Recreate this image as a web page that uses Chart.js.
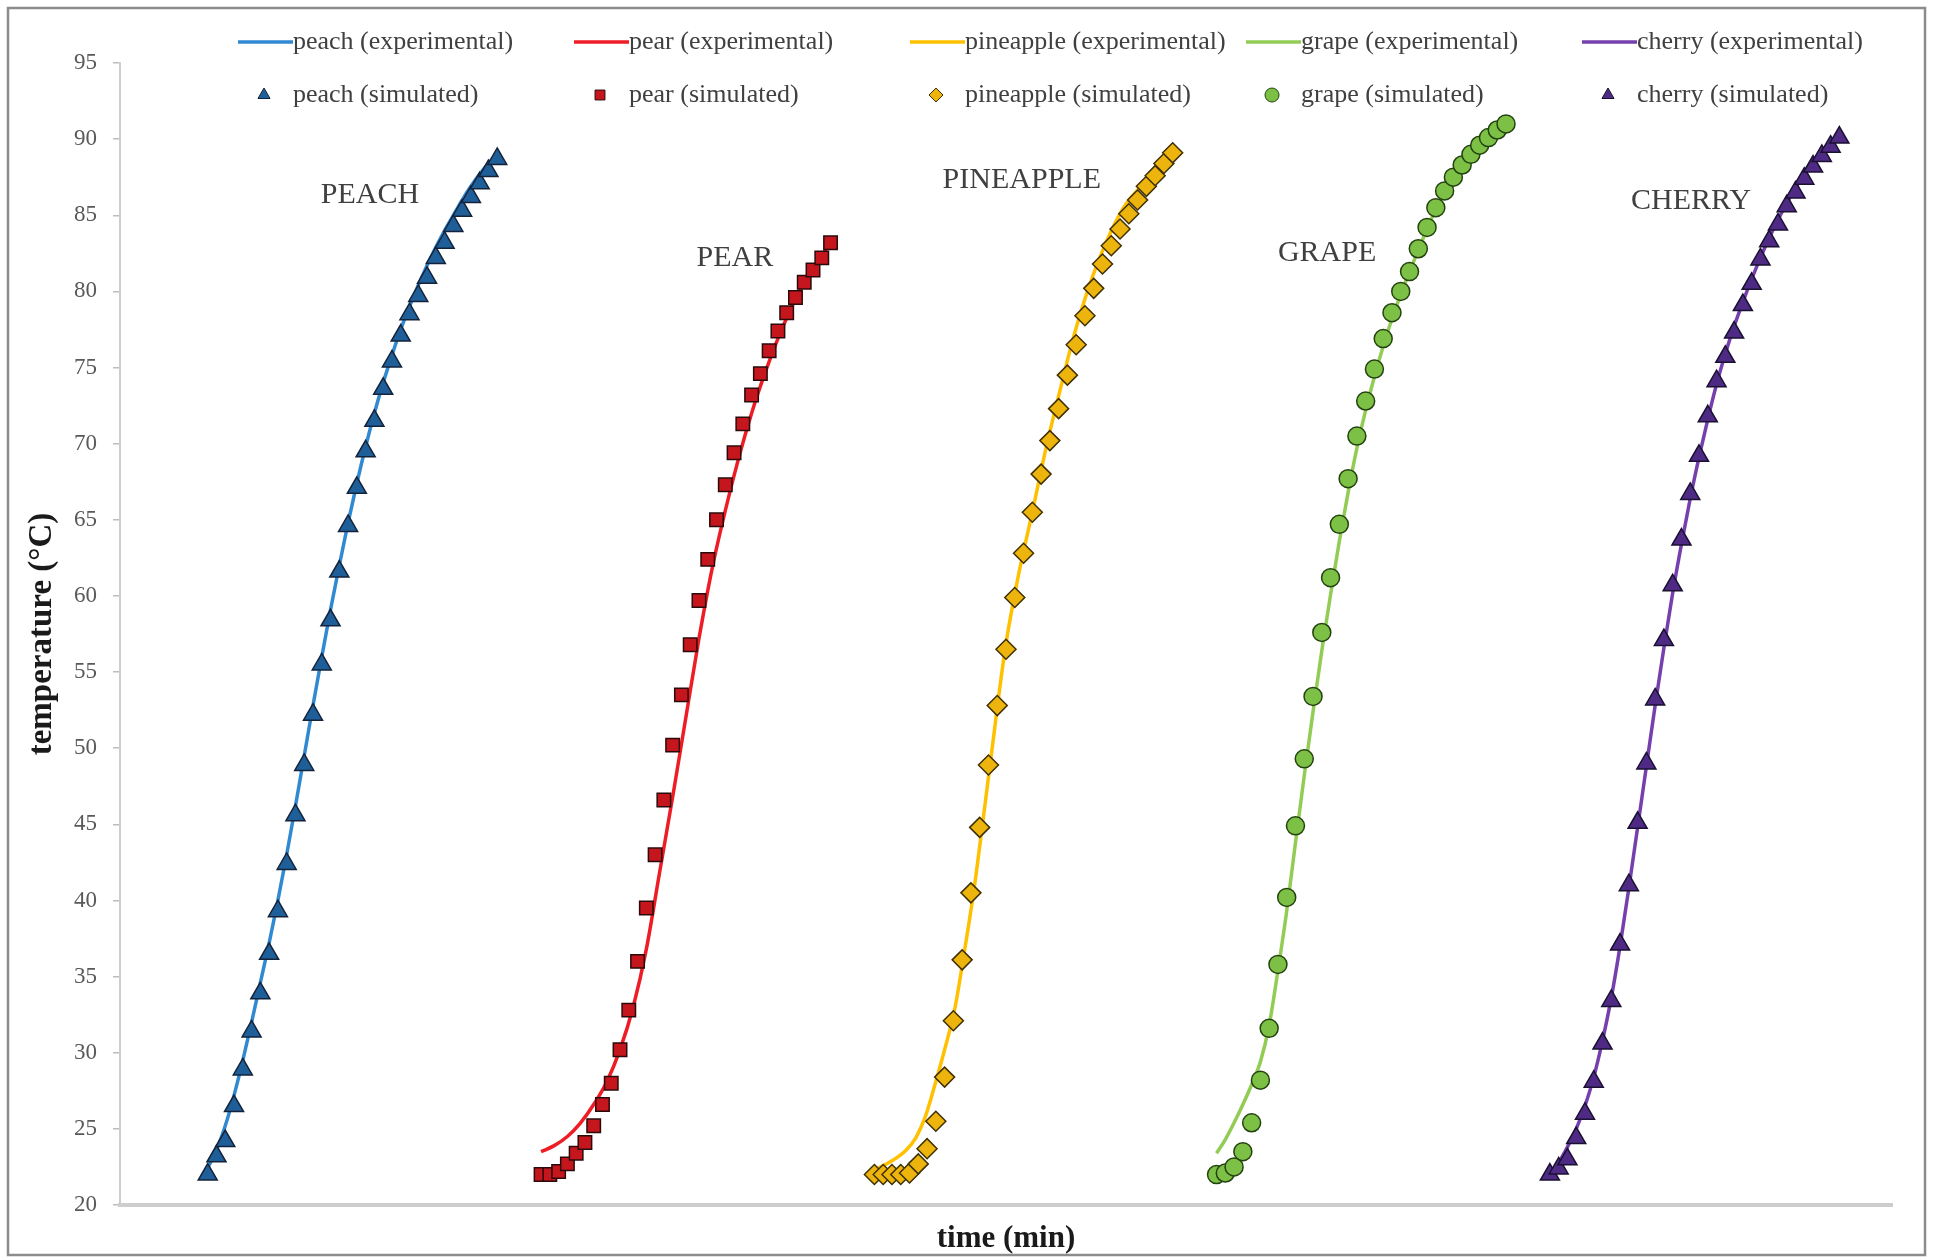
<!DOCTYPE html>
<html>
<head>
<meta charset="utf-8"/>
<title>Fruit heating curves</title>
<script src="https://cdn.jsdelivr.net/npm/chart.js"></script>
<style>
html, body { margin: 0; padding: 0; background: #fff; }
#wrap { position: relative; width: 1935px; height: 1260px; }
</style>
</head>
<body>
<div id="wrap"><canvas id="tempChart"></canvas></div>
<script>
// time in min, temperature in °C
const peachSimTime = [10,11,12,13,14,15,16,17,18,19,20,21,22,23,24,25,26,27,28,29,30,31,32,33,34,35,36,37,38,39,40,41,42,43];
const peachSimTemp = [22.0,23.2,24.2,26.5,28.9,31.4,33.9,36.5,39.3,42.4,45.6,48.9,52.2,55.5,58.4,61.6,64.6,67.1,69.5,71.5,73.6,75.4,77.1,78.5,79.7,80.9,82.2,83.2,84.3,85.3,86.2,87.1,87.9,88.7];
const peachExpTime = [9.6,11,12,13,14,15,16,17,18,19,20,21,22,23,24,25,26,27,28,29,30,31,32,33,34,35,36,37,38,39,40,41,42,43];
const peachExpTemp = [22.0,23.6,25.2,27.2,29.5,32.0,34.6,37.2,40.0,43.0,46.2,49.5,52.8,56.0,59.1,62.0,64.8,67.4,69.8,72.0,74.0,75.8,77.5,79.0,80.4,81.7,82.9,84.0,85.0,86.0,86.9,87.7,88.4,89.0];

const pearSimTime = [48,49,50,51,52,53,54,55,56,57,58,59,60,61,62,63,64,65,66,67,68,69,70,71,72,73,74,75,76,77,78,79,80,81];
const pearSimTemp = [22.0,22.0,22.2,22.7,23.4,24.1,25.2,26.6,28.0,30.2,32.8,36.0,39.5,43.0,46.6,50.2,53.5,56.8,59.7,62.4,65.0,67.3,69.4,71.3,73.2,74.6,76.1,77.4,78.6,79.6,80.6,81.4,82.2,83.2];
const pearExpTime = [48.0,49.5,51.0,52.5,54.0,55.5,57.0,58.5,60.0,61.5,63.0,64.5,66.0,67.5,69.0,70.5,72.0,73.5,75.0,76.5,78.0,79.5,81.0];
const pearExpTemp = [23.5,23.9,24.5,25.4,26.6,28.1,30.2,33.0,36.8,41.8,46.8,52.0,57.2,61.8,65.6,69.0,72.0,74.6,76.9,78.9,80.6,81.9,83.2];

const pineappleSimTime = [86,87,88,89,90,91,92,93,94,95,96,97,98,99,100,101,102,103,104,105,106,107,108,109,110,111,112,113,114,115,116,117,118,119,120];
const pineappleSimTemp = [22.0,22.0,22.0,22.0,22.1,22.7,23.7,25.5,28.4,32.1,36.1,40.5,44.8,48.9,52.8,56.5,59.9,62.8,65.5,68.0,70.2,72.3,74.5,76.5,78.4,80.2,81.8,83.0,84.1,85.1,86.0,86.9,87.6,88.4,89.1];
const pineappleExpTime = [85.7,88.0,89.6,90.7,91.8,92.7,94.0,95.2,96.3,97.3,98.3,99.4,100.9,102.4,104.0,105.6,107.2,108.7,110.4,112.4,114.4,116.7,119.8];
const pineappleExpTemp = [22.2,22.9,23.6,24.4,25.8,27.5,30.2,33.0,36.8,40.5,44.9,49.9,56.5,61.3,65.5,69.8,73.6,77.0,80.2,83.2,85.5,87.1,89.2];

const grapeSimTime = [125,126,127,128,129,130,131,132,133,134,135,136,137,138,139,140,141,142,143,144,145,146,147,148,149,150,151,152,153,154,155,156,157,158];
const grapeSimTemp = [22.0,22.1,22.5,23.5,25.4,28.2,31.6,35.8,40.2,44.9,49.3,53.4,57.6,61.2,64.7,67.7,70.5,72.8,74.9,76.9,78.6,80.0,81.3,82.8,84.2,85.5,86.6,87.5,88.3,89.0,89.6,90.1,90.6,91.0];
const grapeExpTime = [125,126,127,128,129,130,131,132,133,134,135,136,137,138,139,140,141,142,143,144,145,146,147,148,149,150,151,152,153,154,155,156,157,158];
const grapeExpTemp = [23.4,24.3,25.4,26.6,27.9,29.4,31.8,35.4,39.3,43.8,48.2,52.4,56.4,60.1,63.6,66.8,69.7,72.2,74.4,76.4,78.2,79.8,81.3,82.7,84.1,85.4,86.5,87.5,88.3,89.0,89.6,90.1,90.6,91.0];

const cherrySimTime = [163,164,165,166,167,168,169,170,171,172,173,174,175,176,177,178,179,180,181,182,183,184,185,186,187,188,189,190,191,192,193,194,195,196];
const cherrySimTemp = [22.0,22.4,23.0,24.4,26.0,28.1,30.6,33.4,37.1,41.0,45.1,49.0,53.2,57.1,60.7,63.7,66.7,69.2,71.8,74.1,75.7,77.3,79.1,80.5,82.1,83.3,84.4,85.6,86.5,87.4,88.2,88.9,89.5,90.1];
const cherryExpTime = [162.7,164,165,166,167,168,169,170,171,172,173,174,175,176,177,178,179,180,181,182,183,184,185,186,187,188,189,190,191,192,193,194,195,196];
const cherryExpTemp = [21.9,22.8,23.8,25.0,26.5,28.4,30.8,33.6,37.0,40.8,44.8,48.8,52.8,56.6,60.2,63.4,66.4,69.1,71.6,73.9,75.9,77.7,79.3,80.8,82.2,83.5,84.7,85.8,86.8,87.7,88.5,89.2,89.7,90.1];

const yTicksMin = 20, yTicksMax = 95, yTicksStep = 5;

// names written next to each curve, anchored in data units
const curveNames = ['PEACH', 'PEAR', 'PINEAPPLE', 'GRAPE', 'CHERRY'];
const curveNameAt = [[28.5, 86.3], [70.1, 82.2], [102.8, 87.3], [137.6, 82.5], [179.1, 85.9]];

const serif = '"Liberation Serif", "Times New Roman", serif';

function pts(time, temp) {
  return time.map((t, i) => ({ x: t, y: temp[i] }));
}

function expSet(label, time, temp, color) {
  return {
    label: label,
    data: pts(time, temp),
    showLine: true,
    borderColor: color,
    backgroundColor: color,
    borderWidth: 3.5,
    pointRadius: 0,
    pointHoverRadius: 0,
    cubicInterpolationMode: 'monotone',
    order: 2
  };
}

function simSet(label, time, temp, style, fill, edge, radius) {
  return {
    label: label,
    data: pts(time, temp),
    showLine: false,
    pointStyle: style,
    pointRadius: radius,
    pointHoverRadius: radius,
    pointBackgroundColor: fill,
    pointBorderColor: edge,
    pointBorderWidth: 1.5,
    backgroundColor: fill,
    borderColor: edge,
    order: 1
  };
}

const datasets = [
  expSet('peach (experimental)', peachExpTime, peachExpTemp, '#3189d2'),
  simSet('peach (simulated)', peachSimTime, peachSimTemp, 'triangle', '#1f5f99', '#14233a', 11),
  expSet('pear (experimental)', pearExpTime, pearExpTemp, '#ee1c25'),
  simSet('pear (simulated)', pearSimTime, pearSimTemp, 'rect', '#c4161c', '#2a0a0a', 9.5),
  expSet('pineapple (experimental)', pineappleExpTime, pineappleExpTemp, '#ffc000'),
  simSet('pineapple (simulated)', pineappleSimTime, pineappleSimTemp, 'rectRot', '#eeb40e', '#3e3000', 10),
  expSet('grape (experimental)', grapeExpTime, grapeExpTemp, '#92cc55'),
  simSet('grape (simulated)', grapeSimTime, grapeSimTemp, 'circle', '#7cc146', '#24420f', 9),
  expSet('cherry (experimental)', cherryExpTime, cherryExpTemp, '#7540ad'),
  simSet('cherry (simulated)', cherrySimTime, cherrySimTemp, 'triangle', '#4e2a84', '#1a1030', 11)
];

function marker(ctx, style, x, y, r, fill, edge) {
  ctx.fillStyle = fill;
  ctx.strokeStyle = edge;
  ctx.lineWidth = 1;
  if (Chart.helpers && Chart.helpers.drawPoint) {
    Chart.helpers.drawPoint(ctx, { pointStyle: style, radius: r, rotation: 0, borderWidth: 1 }, x, y);
    return;
  }
  ctx.beginPath();
  ctx.arc(x, y, r, 0, Math.PI * 2);
  ctx.fill();
  ctx.stroke();
}

// frame, curve names and the two-row legend
const decor = {
  id: 'decor',
  beforeDraw(chart) {
    const ctx = chart.ctx;
    ctx.save();
    ctx.fillStyle = '#fff';
    ctx.fillRect(0, 0, chart.width, chart.height);
    ctx.restore();
  },
  afterDraw(chart) {
    const ctx = chart.ctx;
    const xs = chart.scales.x, ys = chart.scales.y;
    ctx.save();

    ctx.strokeStyle = '#8c8c8c';
    ctx.lineWidth = 2.5;
    ctx.strokeRect(8, 8, chart.width - 18, chart.height - 13);

    ctx.font = '30px ' + serif;
    ctx.fillStyle = '#404040';
    ctx.textAlign = 'center';
    ctx.textBaseline = 'middle';
    curveNames.forEach((name, i) => {
      ctx.fillText(name, xs.getPixelForValue(curveNameAt[i][0]), ys.getPixelForValue(curveNameAt[i][1]));
    });

    const left = 238, step = 336, rows = [42, 95], sample = 55;
    ctx.font = '26px ' + serif;
    ctx.textAlign = 'left';
    for (let i = 0; i < 5; i++) {
      const exp = chart.data.datasets[2 * i];
      const sim = chart.data.datasets[2 * i + 1];
      const x0 = left + step * i;
      ctx.strokeStyle = exp.borderColor;
      ctx.lineWidth = 3.5;
      ctx.beginPath();
      ctx.moveTo(x0, rows[0]);
      ctx.lineTo(x0 + sample, rows[0]);
      ctx.stroke();
      marker(ctx, sim.pointStyle, x0 + 26, rows[1], 7, sim.pointBackgroundColor, sim.pointBorderColor);
      ctx.fillStyle = '#404040';
      ctx.fillText(exp.label, x0 + sample, rows[0]);
      ctx.fillText(sim.label, x0 + sample, rows[1]);
    }
    ctx.restore();
  }
};

new Chart(document.getElementById('tempChart'), {
  type: 'scatter',
  data: { datasets: datasets },
  plugins: [decor],
  options: {
    responsive: true,
    maintainAspectRatio: false,
    animation: false,
    layout: { padding: { left: 0, right: 43, top: 63, bottom: 0 } },
    plugins: {
      legend: { display: false },
      tooltip: { enabled: false }
    },
    scales: {
      x: {
        type: 'linear',
        min: 0,
        max: 202,
        ticks: { display: false },
        grid: { display: false },
        border: { display: true, color: '#cdcdcd', width: 4 },
        title: {
          display: true,
          text: 'time (min)',
          color: '#1a1a1a',
          font: { family: serif, size: 31, weight: 'bold' },
          padding: { top: 0, bottom: 2 }
        },
        afterFit(scale) { scale.height = 55; }
      },
      y: {
        type: 'linear',
        min: yTicksMin,
        max: yTicksMax,
        ticks: {
          stepSize: yTicksStep,
          color: '#595959',
          padding: 16,
          font: { family: serif, size: 23 }
        },
        grid: { display: true, drawOnChartArea: false, drawTicks: true, tickLength: 7, color: '#bdbdbd', lineWidth: 1.5 },
        border: { display: true, color: '#cdcdcd', width: 2 },
        title: {
          display: true,
          text: 'temperature (°C)',
          color: '#1a1a1a',
          font: { family: serif, size: 33, weight: 'bold' },
          padding: { top: 23, bottom: 0 }
        },
        afterFit(scale) { scale.width = 120; }
      }
    }
  }
});
</script>
</body>
</html>
